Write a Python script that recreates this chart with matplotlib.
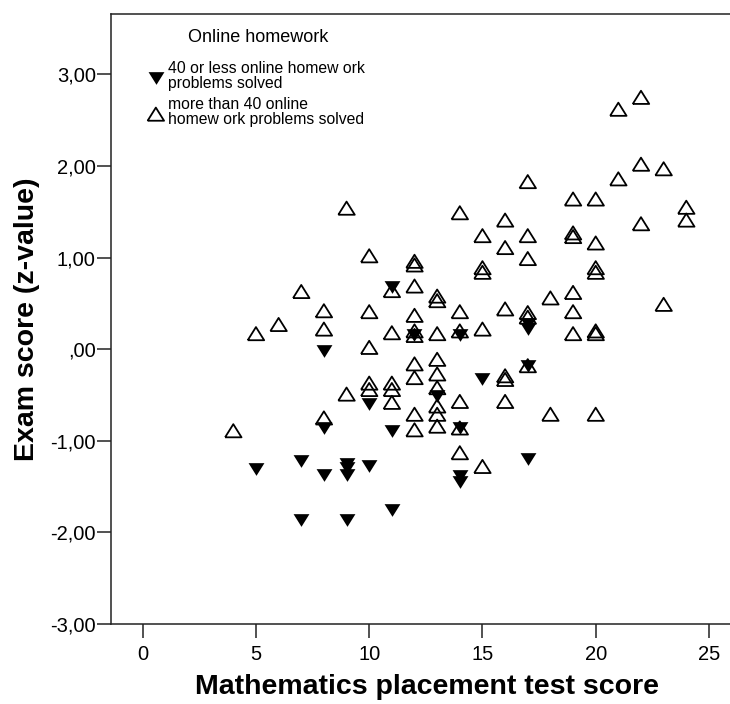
import matplotlib.pyplot as plt
from matplotlib.ticker import FuncFormatter

plt.rcParams['font.family'] = ['Liberation Sans', 'DejaVu Sans']

# 40 or less online homework problems solved (filled, pointing down)
low_x = [5, 7, 7, 8, 8, 8, 9, 9, 9, 9, 10, 10, 11, 11, 11,
         12, 13, 14, 14, 14, 14, 15, 17, 17, 17, 17]
low_y = [-1.31, -1.22, -1.86, -0.02, -0.86, -1.37, -1.25, -1.30, -1.37, -1.86,
         -0.60, -1.28, 0.68, -0.89, -1.75, 0.15, -0.51, 0.15, -0.86, -1.38,
         -1.45, -0.33, 0.27, 0.22, -0.18, -1.20]

# more than 40 online homework problems solved (open, pointing up)
high_x = [4, 5, 6, 7, 8, 8, 8, 9, 9,
          10, 10, 10, 10, 10,
          11, 11, 11, 11, 11,
          12, 12, 12, 12, 12, 12, 12, 12, 12, 12,
          13, 13, 13, 13, 13, 13, 13, 13, 13,
          14, 14, 14, 14, 14, 14,
          15, 15, 15, 15, 15,
          16, 16, 16, 16, 16, 16,
          17, 17, 17, 17, 17, 17,
          18, 18,
          19, 19, 19, 19, 19, 19,
          20, 20, 20, 20, 20, 20, 20,
          21, 21, 22, 22, 22, 23, 23, 24, 24]
high_y = [-0.89, 0.17, 0.27, 0.63, 0.42, 0.22, -0.75, 1.54, -0.49,
          1.02, 0.41, 0.02, -0.37, -0.44,
          0.64, 0.18, -0.37, -0.44, -0.58,
          0.96, 0.92, 0.69, 0.37, 0.20, 0.15, -0.16, -0.31, -0.71, -0.88,
          0.58, 0.53, 0.17, -0.11, -0.27, -0.42, -0.62, -0.71, -0.84,
          1.49, 0.41, 0.20, -0.57, -0.86, -1.13,
          1.24, 0.89, 0.84, 0.22, -1.28,
          1.41, 1.11, 0.44, -0.29, -0.33, -0.57,
          1.83, 1.24, 0.99, 0.40, 0.35, -0.18,
          0.56, -0.71,
          1.64, 1.27, 1.23, 0.62, 0.41, 0.17,
          1.64, 1.16, 0.89, 0.84, 0.20, 0.17, -0.71,
          1.86, 2.62, 2.75, 2.02, 1.37, 1.97, 0.49, 1.55, 1.41]

x_ticks = [0, 5, 10, 15, 20, 25]
y_ticks = [-3, -2, -1, 0, 1, 2, 3]

legend_title = 'Online homework'
low_label = '40 or less online homew ork\nproblems solved'
high_label = 'more than 40 online\nhomew ork problems solved'

# flattened triangles like the SPSS markers
up_tri = [(-1, -0.8), (1, -0.8), (0, 0.8), (-1, -0.8)]
down_tri = [(-1, 0.8), (1, 0.8), (0, -0.8), (-1, 0.8)]

fig = plt.figure(figsize=(7.3, 7.04), dpi=100)
ax = fig.add_axes([111 / 730, 80 / 704, 619 / 730, 610 / 704])

ax.scatter(low_x, low_y, marker=down_tri, s=130, color='black',
           linewidths=0, label=low_label, zorder=3)
ax.scatter(high_x, high_y, marker=up_tri, s=140, facecolors='none',
           edgecolors='black', linewidths=1.3, label=high_label, zorder=4)

ax.set_xlim(-1.4, 25.93)
ax.set_ylim(-3, 3.66)
ax.set_xticks(x_ticks)
ax.set_yticks(y_ticks)


def comma_fmt(v, pos):
    s = f'{v:.2f}'.replace('.', ',')
    if s.startswith('0,'):
        s = s[1:]
    return s


ax.yaxis.set_major_formatter(FuncFormatter(comma_fmt))
ax.tick_params(axis='both', direction='out', length=10, width=1.1,
               labelsize=14.5, color='#222222')
ax.tick_params(axis='y', pad=1)
ax.tick_params(axis='x', pad=5)

for side in ['left', 'top', 'bottom']:
    ax.spines[side].set_linewidth(1.1)
    ax.spines[side].set_color('#222222')
ax.spines['right'].set_visible(False)

ax.set_xlabel('Mathematics placement test score', fontsize=20.5, fontweight='bold')
ax.set_ylabel('Exam score (z-value)', fontsize=20.5, fontweight='bold')
ax.xaxis.set_label_coords(0.51, -0.082)
ax.yaxis.set_label_coords(-0.115, 0.5)

# legend title drawn on its own so the gap below it matches
fig.text(258 / 730, 1 - 38 / 704, legend_title, fontsize=13,
         ha='center', va='center')
leg = ax.legend(loc='upper left',
                bbox_to_anchor=(148 / 730, 1 - 61 / 704),
                bbox_transform=fig.transFigure, frameon=False,
                fontsize=11.3, handlelength=1.0,
                handletextpad=0.3, borderpad=0, borderaxespad=0,
                labelspacing=0.4, scatterpoints=1)
for t in leg.get_texts():
    t.set_linespacing(1.0)

plt.savefig('out.png', dpi=100)
